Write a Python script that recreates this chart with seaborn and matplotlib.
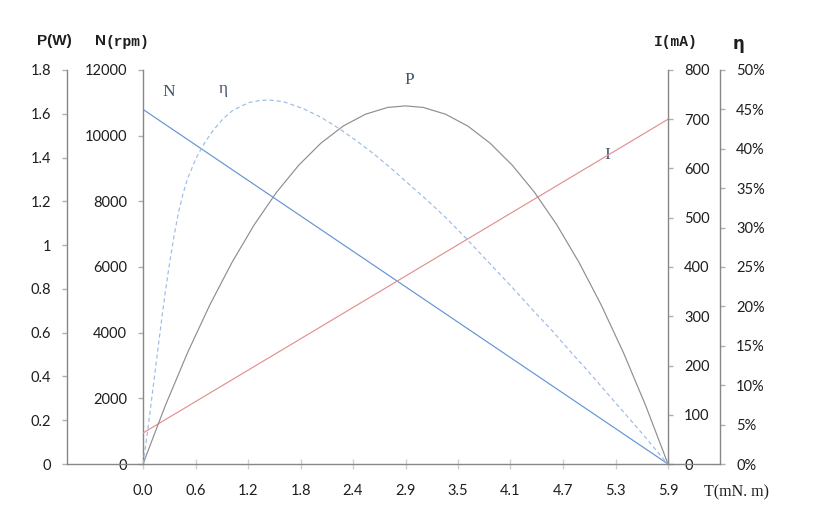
import matplotlib
matplotlib.use("Agg")
import matplotlib.pyplot as plt
import seaborn as sns
import pandas as pd
from matplotlib.lines import Line2D

# ---------------- data ----------------
tick_pos = [0.0, 0.59, 1.18, 1.77, 2.36, 2.95, 3.54, 4.13, 4.72, 5.31, 5.9]
tick_labels = ["0.0", "0.6", "1.2", "1.8", "2.4", "2.9", "3.5", "4.1", "4.7", "5.3", "5.9"]

torque_lin = [0.0, 5.9]
speed_rpm = [10800, 0]
current_ma = [63, 700]

torque_p = [0.0, 0.25, 0.5, 0.75, 1.0, 1.25, 1.5, 1.75, 2.0, 2.25, 2.5, 2.75, 2.95,
            3.15, 3.4, 3.65, 3.9, 4.15, 4.4, 4.65, 4.9, 5.15, 5.4, 5.65, 5.9]
power_w = [0.0, 0.266, 0.508, 0.726, 0.921, 1.093, 1.241, 1.365, 1.466, 1.544, 1.598, 1.629, 1.636,
           1.629, 1.598, 1.544, 1.466, 1.365, 1.241, 1.093, 0.921, 0.726, 0.508, 0.266, 0.0]

torque_e = [0.0, 0.05, 0.1, 0.15, 0.2, 0.25, 0.3, 0.35, 0.4, 0.45, 0.5, 0.6, 0.7, 0.8, 0.9,
            1.0, 1.1, 1.2, 1.3, 1.4, 1.5, 1.6, 1.8, 2.0, 2.2, 2.4, 2.6, 2.8, 3.0, 3.2, 3.4,
            3.6, 3.8, 4.0, 4.2, 4.4, 4.6, 4.8, 5.0, 5.2, 5.4, 5.6, 5.8, 5.9]
efficiency_pct = [0.0, 4.0, 8.5, 13.0, 17.5, 21.8, 25.6, 29.0, 32.0, 34.3, 36.2, 38.9, 40.9, 42.5, 43.8,
                  44.8, 45.4, 45.9, 46.1, 46.2, 46.1, 45.9, 45.1, 44.0, 42.6, 41.0, 39.3, 37.4, 35.4, 33.4, 31.3,
                  29.0, 26.6, 24.2, 21.8, 19.3, 16.9, 14.3, 11.8, 9.2, 6.6, 4.0, 1.3, 0.0]

p_ticks = [0, 0.2, 0.4, 0.6, 0.8, 1.0, 1.2, 1.4, 1.6, 1.8]
p_labels = ["0", "0.2", "0.4", "0.6", "0.8", "1", "1.2", "1.4", "1.6", "1.8"]
n_ticks = [0, 2000, 4000, 6000, 8000, 10000, 12000]
i_ticks = [0, 100, 200, 300, 400, 500, 600, 700, 800]
e_ticks = [0, 5, 10, 15, 20, 25, 30, 35, 40, 45, 50]

# ---------------- style ----------------
sns.set_style("white")
plt.rcParams["font.family"] = ["Lato", "DejaVu Sans"]

W, H = 833, 515
fig = plt.figure(figsize=(W / 100, H / 100), dpi=100)
x0, x1, y0, y1 = 143, 668, 464, 70
ax = fig.add_axes([x0 / W, (H - y0) / H, (x1 - x0) / W, (y0 - y1) / H])
ax_i = ax.twinx()
ax_p = ax.twinx()
ax_e = ax.twinx()

spine_c = "#878787"
tick_c = "#b0b0b0"
txt_c = "#1e1e1e"
px = 0.72  # points per pixel

c_n = "#6494d6"
c_i = "#e3908f"
c_p = "#8e8e8e"
c_e = "#9dbbe6"

df_lin = pd.DataFrame({"T": torque_lin, "N": speed_rpm, "I": current_ma})
df_p = pd.DataFrame({"T": torque_p, "P": power_w})
df_e = pd.DataFrame({"T": torque_e, "eta": efficiency_pct})

sns.lineplot(data=df_lin, x="T", y="N", ax=ax, color=c_n, lw=0.85)
sns.lineplot(data=df_lin, x="T", y="I", ax=ax_i, color=c_i, lw=0.85)
sns.lineplot(data=df_p, x="T", y="P", ax=ax_p, color=c_p, lw=0.85)
sns.lineplot(data=df_e, x="T", y="eta", ax=ax_e, color=c_e, lw=0.85, linestyle=(0, (3.5, 2.5)))

for a in (ax, ax_i, ax_p, ax_e):
    a.set_xlim(0, 5.9)
    a.set_xlabel("")
    a.set_ylabel("")
    for s in a.spines.values():
        s.set_visible(False)
        s.set_color(spine_c)
        s.set_linewidth(1.0)

ax.set_ylim(0, 12000)
ax_i.set_ylim(0, 800)
ax_p.set_ylim(0, 1.8)
ax_e.set_ylim(0, 50)

# N axis (left, at plot edge)
ax.spines["left"].set_visible(True)
ax.set_yticks(n_ticks)
ax.set_yticklabels([str(v) for v in n_ticks])
ax.yaxis.set_ticks_position("left")
ax.tick_params(axis="y", direction="out", length=5 * px, width=1, color=tick_c,
               pad=8, labelsize=10.5, labelcolor=txt_c)

# x axis
ax.set_xticks(tick_pos)
ax.set_xticklabels(tick_labels)
ax.tick_params(axis="x", direction="inout", length=10 * px, width=1, color="#cfcfcf",
               pad=11, labelsize=10.5, labelcolor=txt_c, bottom=True)

# I axis (right, at plot edge)
ax_i.spines["right"].set_visible(True)
ax_i.set_yticks(i_ticks)
ax_i.set_yticklabels([str(v) for v in i_ticks])
ax_i.tick_params(axis="y", direction="out", length=5 * px, width=1, color=tick_c,
                 pad=8, labelsize=10.5, labelcolor=txt_c)

# P axis (far left)
ax_p.spines["left"].set_visible(True)
ax_p.spines["left"].set_position(("outward", (x0 - 67) * px))
ax_p.yaxis.set_ticks_position("left")
ax_p.yaxis.set_label_position("left")
ax_p.set_yticks(p_ticks)
ax_p.set_yticklabels(p_labels)
ax_p.tick_params(axis="y", direction="out", length=5 * px, width=1, color=tick_c,
                 pad=8, labelsize=10.5, labelcolor=txt_c)

# eta axis (far right)
ax_e.spines["right"].set_visible(True)
ax_e.spines["right"].set_position(("outward", (720 - x1) * px))
ax_e.set_yticks(e_ticks)
ax_e.set_yticklabels([f"{v}%" for v in e_ticks])
ax_e.tick_params(axis="y", direction="out", length=5 * px, width=1, color=tick_c,
                 pad=8, labelsize=10.5, labelcolor=txt_c)

# common baseline from P axis to eta axis
fig.add_artist(Line2D([67 / W, 720 / W], [(H - y0) / H, (H - y0) / H],
                      color=spine_c, lw=1.0, transform=fig.transFigure))

# axis titles
def ft(x, y, s, **kw):
    fig.text(x / W, 1 - y / H, s, ha="center", va="center", color=txt_c, **kw)

ft(54, 41, "P(W)", family="Liberation Sans", weight="bold", fontsize=11)
ft(101, 41, "N", family="Liberation Sans", weight="bold", fontsize=11)
ft(127, 42, "(rpm)", family="Liberation Mono", weight="bold", fontsize=10.5)
ft(676, 42, "I(mA)", family="Liberation Mono", weight="bold", fontsize=10.5)
ft(739, 44, "η", family="DejaVu Sans", weight="bold", fontsize=12)
ft(736, 492, "T(mN. m)", family="Liberation Serif", fontsize=11.5)

# curve labels
lab_c = "#44546a"
ax.text(0.29, 11330, "N", ha="center", va="center", color=lab_c, family="Liberation Serif", fontsize=12.5)
ax.text(0.90, 11420, "η", ha="center", va="center", color=lab_c, family="Liberation Serif", fontsize=12.5)
ax.text(2.99, 11700, "P", ha="center", va="center", color=lab_c, family="Liberation Serif", fontsize=12.5)
ax.text(5.22, 9410, "I", ha="center", va="center", color=lab_c, family="Liberation Serif", fontsize=12.5)

fig.savefig("out.png", dpi=100)
